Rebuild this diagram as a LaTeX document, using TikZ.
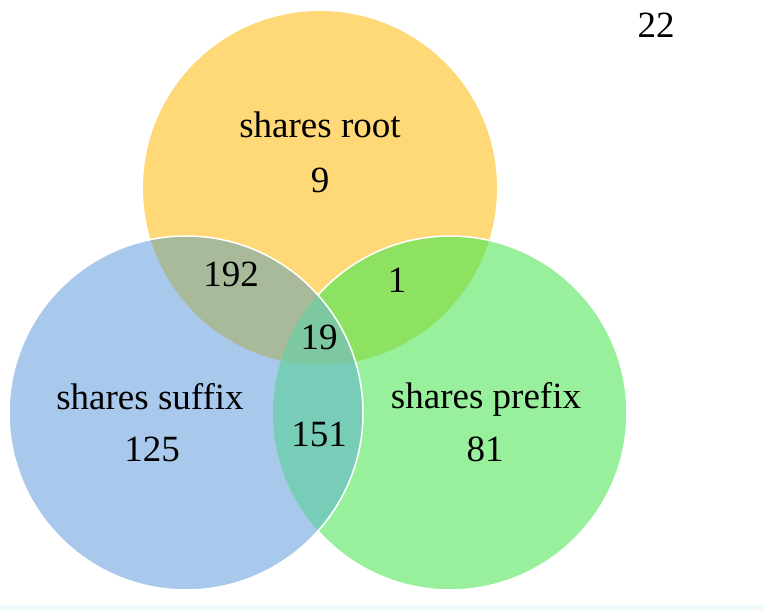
\documentclass[tikz,border=0pt]{standalone}
\usepackage{fontspec}
\setmainfont{Liberation Serif}
\definecolor{yel}{HTML}{FFD878}
\definecolor{blu}{HTML}{A9C9EC}
\definecolor{gre}{HTML}{98F09C}
\definecolor{cYB}{HTML}{A9BA9B}
\definecolor{cYG}{HTML}{8EE262}
\definecolor{cBG}{HTML}{78CDB8}
\definecolor{cALL}{HTML}{7DC8A0}
\definecolor{band}{HTML}{F0FAFC}
\begin{document}
\begin{tikzpicture}[x=1pt,y=1pt,
  lbl/.style={anchor=base, font=\fontsize{37}{44}\selectfont, inner sep=0pt, text=black},
  edge/.style={draw=white, line width=1.5pt}]
\useasboundingbox (0,0) rectangle (764,610);
\fill[band] (0,0) rectangle (764,5);
\coordinate (Y) at (320,422);
\coordinate (B) at (186,197);
\coordinate (G) at (450,197);
\def\R{177}
% base circles
\fill[yel] (Y) circle[radius=\R];
\fill[blu] (B) circle[radius=\R];
\fill[gre] (G) circle[radius=\R];
% pairwise overlaps
\begin{scope}
  \clip (Y) circle[radius=\R];
  \fill[cYB] (B) circle[radius=\R];
  \fill[cYG] (G) circle[radius=\R];
\end{scope}
\begin{scope}
  \clip (B) circle[radius=\R];
  \fill[cBG] (G) circle[radius=\R];
\end{scope}
\begin{scope}
  \clip (Y) circle[radius=\R];
  \clip (B) circle[radius=\R];
  \fill[cALL] (G) circle[radius=\R];
\end{scope}
% white edges
\path[edge] (B) circle[radius=\R];
\path[edge] (G) ++(-138.2:\R) arc[start angle=-138.2, end angle=138.2, radius=\R];
% labels
\node[lbl] (root) at (320,472) {shares root};
\node[lbl] (nroot) at (320,417) {9};
\node[lbl] (nYB) at (231,323) {192};
\node[lbl] (nYG) at (397,317) {1};
\node[lbl] (nall) at (319,260) {19};
\node[lbl] (nBG) at (319,163) {151};
\node[lbl] (suf) at (150,200) {shares suffix};
\node[lbl] (nsuf) at (152,148) {125};
\node[lbl] (pre) at (486,201) {shares prefix};
\node[lbl] (npre) at (485,148) {81};
\node[lbl] (none) at (656,572) {22};
\end{tikzpicture}
\end{document}
